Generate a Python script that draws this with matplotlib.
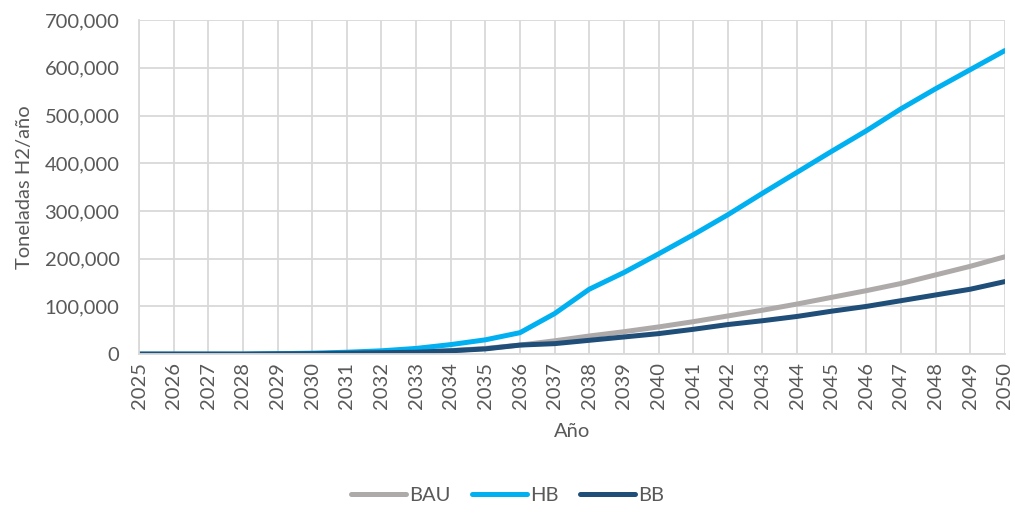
import matplotlib
matplotlib.use("Agg")
import matplotlib.pyplot as plt
from matplotlib.ticker import FuncFormatter, MultipleLocator

plt.rcParams['font.family'] = ['Lato', 'DejaVu Sans']

years = list(range(2025, 2051))

bau = [0, 0, 0, 0, 500, 1000, 2000, 3000, 4500, 7500, 12000, 19000, 28000,
       38000, 47000, 57000, 68000, 80000, 92000, 105000, 119000, 133000,
       148000, 166000, 184000, 204000]
hb = [0, 0, 0, 0, 1000, 2000, 4000, 7000, 12000, 20000, 30000, 45000, 85000,
      136000, 171000, 210000, 250000, 292000, 337000, 381000, 425000, 468000,
      514000, 556000, 596000, 636000]
bb = [0, 0, 0, 0, 500, 1000, 2000, 3000, 4000, 7000, 11000, 19000, 22000,
      29000, 36000, 43000, 52000, 62000, 70000, 79000, 90000, 100000,
      112000, 124000, 136000, 152000]

series_names = ["BAU", "HB", "BB"]
series_colors = ["#AEAAAA", "#00B0F0", "#1F4E79"]

text_color = "#595959"
grid_color = "#D9D9D9"

fig = plt.figure(figsize=(10.15, 5.14), dpi=100)
ax = fig.add_axes([0.137, 0.311, 0.853, 0.650])

for name, vals, col in zip(series_names, [bau, hb, bb], series_colors):
    ax.plot(years, vals, color=col, linewidth=3.6, label=name,
            solid_capstyle='round', solid_joinstyle='round')

ax.set_xlim(2025, 2050)
ax.set_ylim(0, 700000)
ax.yaxis.set_major_locator(MultipleLocator(100000))
ax.yaxis.set_major_formatter(FuncFormatter(lambda v, p: f"{int(v):,}"))
ax.set_xticks(years)
ax.set_xticklabels([str(y) for y in years], rotation=90)

ax.grid(True, color=grid_color, linewidth=1.3)
ax.set_axisbelow(True)
for s in ax.spines.values():
    s.set_color(grid_color)
    s.set_linewidth(1.3)
ax.spines['top'].set_visible(False)
ax.spines['right'].set_visible(False)

ax.tick_params(axis='both', length=0, labelsize=14.5, colors=text_color)
ax.tick_params(axis='y', pad=14)
ax.tick_params(axis='x', pad=6)
ax.set_ylabel("Toneladas H2/año", fontsize=14.5, color=text_color, labelpad=8)
ax.set_xlabel("Año", fontsize=14.5, color=text_color, labelpad=10)

fig.legend(loc='lower center', bbox_to_anchor=(0.5, -0.015), ncol=3,
           frameon=False, fontsize=14.5, labelcolor=text_color,
           handlelength=2.7, handletextpad=0.15, columnspacing=1.1)

fig.savefig("out.png", dpi=100, facecolor="white")
